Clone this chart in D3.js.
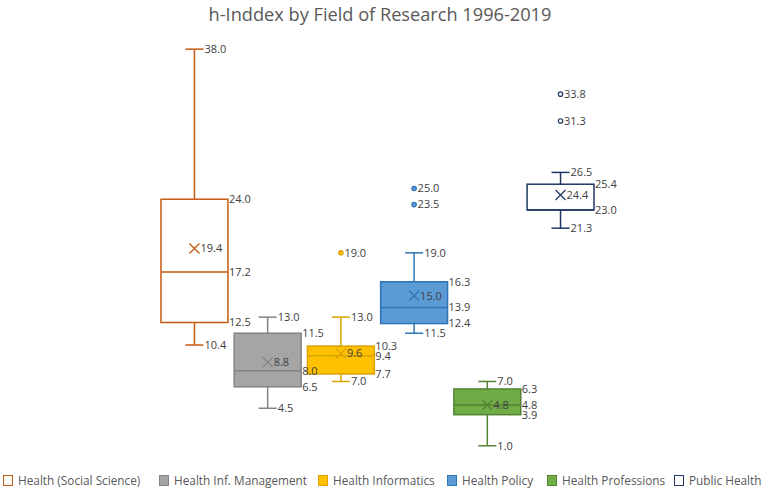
<!DOCTYPE html>
<html><head><meta charset="utf-8">
<script src="https://cdn.jsdelivr.net/npm/d3@7"></script>
<style>body{margin:0;background:#fff}svg{display:block}</style>
</head><body><svg id="c" width="765" height="492"></svg>
<script>
const series = ["Health (Social Science)","Health Inf. Management","Health Informatics","Health Policy","Health Professions","Public Health"];
const minVals    = [10.4, 4.5, 7.0, 11.5, 1.0, 21.3];
const q1Vals     = [12.5, 6.5, 7.7, 12.4, 3.9, 23.0];
const medianVals = [17.2, 8.0, 9.4, 13.9, 4.8, 23.0];
const q3Vals     = [24.0, 11.5, 10.3, 16.3, 6.3, 25.4];
const maxVals    = [38.0, 13.0, 13.0, 19.0, 7.0, 26.5];
const meanVals   = [19.4, 8.8, 9.6, 15.0, 4.8, 24.4];
const outliers   = [[], [], [19.0], [25.0, 23.5], [], [33.8, 31.3]];
const fills   = ["#ffffff","#a5a5a5","#ffc000","#5b9bd5","#70ad47","#ffffff"];
const strokes = ["#c55a11","#838383","#d9a300","#2e75b6","#548235","#1f3864"];
const title = "h-Inddex by Field of Research 1996-2019";

const svg = d3.select("#c");
const x = d3.scaleBand().domain(series).range([161, 594]).paddingInner(0.086).paddingOuter(0);
const y = d3.scaleLinear().domain([0, 40]).range([456.5, 27.7]);
const bw = x.bandwidth();
const capW = bw * 0.27;
const labelColor = "#404040";
const font = "Open Sans, sans-serif";

svg.append("text").attr("x", 380).attr("y", 20.5).attr("text-anchor","middle")
  .attr("font-family", font).attr("font-size", 18.2).attr("fill","#595959").text(title);

const data = series.map((s,i)=>({s,i,min:minVals[i],q1:q1Vals[i],med:medianVals[i],q3:q3Vals[i],max:maxVals[i],mean:meanVals[i],out:outliers[i]}));

const g = svg.append("g");
const lg2 = svg.append("g");
data.forEach(d=>{
  const cx = x(d.s) + bw/2, left = x(d.s), right = left + bw;
  const col = strokes[d.i];
  const gg = g.append("g");
  gg.append("line").attr("x1",cx).attr("x2",cx).attr("y1",y(d.q3)).attr("y2",y(d.max)).attr("stroke",col).attr("stroke-width",1.5);
  gg.append("line").attr("x1",cx).attr("x2",cx).attr("y1",y(d.q1)).attr("y2",y(d.min)).attr("stroke",col).attr("stroke-width",1.5);
  gg.append("line").attr("x1",cx-capW/2).attr("x2",cx+capW/2).attr("y1",y(d.max)).attr("y2",y(d.max)).attr("stroke",col).attr("stroke-width",1.5);
  gg.append("line").attr("x1",cx-capW/2).attr("x2",cx+capW/2).attr("y1",y(d.min)).attr("y2",y(d.min)).attr("stroke",col).attr("stroke-width",1.5);
  gg.append("rect").attr("x",left).attr("y",y(d.q3)).attr("width",bw).attr("height",y(d.q1)-y(d.q3))
    .attr("fill",fills[d.i]).attr("stroke",col).attr("stroke-width",1.5);
  gg.append("line").attr("x1",left).attr("x2",right).attr("y1",y(d.med)).attr("y2",y(d.med)).attr("stroke",col).attr("stroke-width",1.5);
  const m = 5, my = y(d.mean);
  gg.append("path").attr("d",`M${cx-m},${my-m}L${cx+m},${my+m}M${cx-m},${my+m}L${cx+m},${my-m}`).attr("stroke",col).attr("stroke-width",1.3).attr("fill","none");
  const lab = (xx, v) => lg2.append("text").attr("x",xx).attr("y",y(v)).attr("dy","0.35em").attr("font-family",font).attr("font-size",11).attr("fill",labelColor).text(v.toFixed(1));
  d.out.forEach(v=>{
    gg.append("circle").attr("cx",cx).attr("cy",y(v)).attr("r",2.2)
      .attr("fill", fills[d.i]).attr("stroke",col).attr("stroke-width",1.2);
    lab(cx+3.5, v);
  });
  lab(cx+capW/2+1, d.max);
  lab(cx+capW/2+1, d.min);
  lab(right+1, d.q3);
  lab(right+1, d.q1);
  if (d.med !== d.q1 && d.med !== d.q3) lab(right+1, d.med);
  lab(cx+6, d.mean);
});

// legend
const legendTextX = [18, 174, 333, 462, 562, 689];
const lg = svg.append("g");
series.forEach((s,i)=>{
  lg.append("rect").attr("x",legendTextX[i]-14.5).attr("y",475.5).attr("width",9).attr("height",10)
    .attr("fill",fills[i]).attr("stroke",strokes[i]).attr("stroke-width",1);
  lg.append("text").attr("x",legendTextX[i]).attr("y",480.5).attr("dy","0.35em").attr("font-family",font)
    .attr("font-size",11.8).attr("fill","#595959").text(s);
});
</script></body></html>
